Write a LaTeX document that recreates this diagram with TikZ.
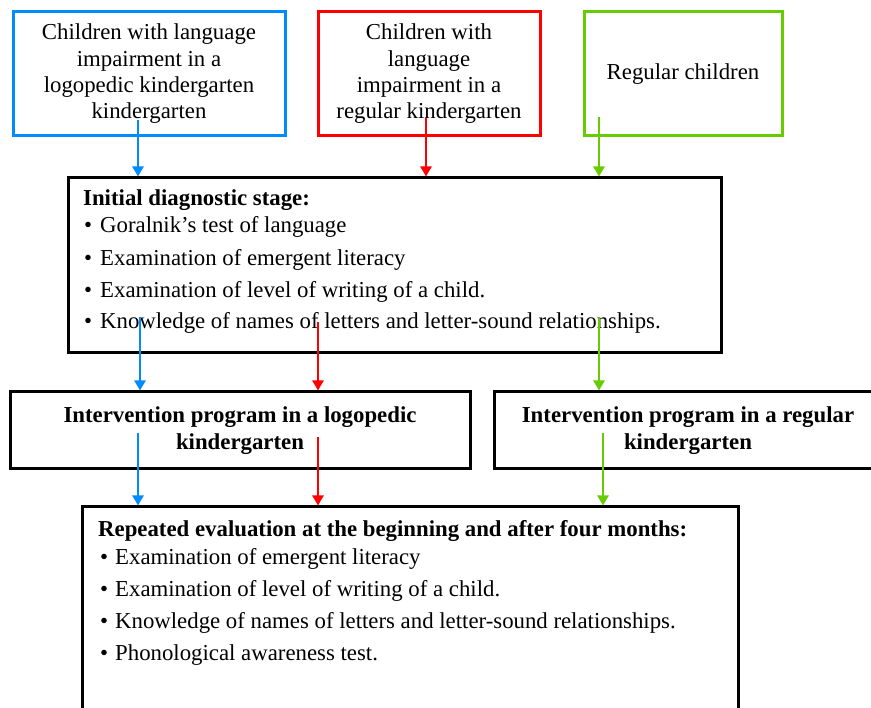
\documentclass[tikz,border=0pt]{standalone}
\usepackage{fontspec}
\setmainfont{Liberation Serif}
\usetikzlibrary{arrows.meta,calc}
\definecolor{cblue}{RGB}{0,140,255}
\definecolor{cred}{RGB}{255,0,0}
\definecolor{cgreen}{RGB}{102,204,0}
\begin{document}
\begin{tikzpicture}[x=1pt,y=-1pt,
  box/.style={draw, line width=3pt, inner sep=0pt, align=center,
    font=\fontsize{22.8}{26.3}\selectfont},
  boldbox/.style={box, font=\fontsize{22.8}{27}\selectfont\bfseries},
  line/.style={anchor=base west, inner sep=0pt, font=\fontsize{22.8}{27}\selectfont},
  flow/.style={line width=2.4pt, -{Triangle[width=11pt,length=10pt]}}]
\path[use as bounding box] (0,0) rectangle (871,708);
\clip (0,0) rectangle (871,708);
% top boxes
\node[box, draw=cblue, minimum width=272pt, minimum height=124pt] (kl) at (149,74)
  {Children with language\\impairment in a\\logopedic kindergarten\\kindergarten};
\node[box, draw=cred, minimum width=222pt, minimum height=124pt] (kr) at (429,74)
  {Children with\\language\\impairment in a\\regular kindergarten};
\node[box, draw=cgreen, minimum width=198pt, minimum height=124pt] (kg) at (683,74)
  {Regular children};
% diagnostic box
\node[box, minimum width=653pt, minimum height=175pt] (diag) at (394.5,265.5) {};
\node[line] (d0) at (83,206) {\bfseries Initial diagnostic stage:};
\node[line] (d1) at (84,233) {\makebox[16pt][l]{\textbullet}Goralnik's test of language};
\node[line] (d2) at (84,266) {\makebox[16pt][l]{\textbullet}Examination of emergent literacy};
\node[line] (d3) at (84,298) {\makebox[16pt][l]{\textbullet}Examination of level of writing of a child.};
\node[line] (d4) at (84,329) {\makebox[16pt][l]{\textbullet}Knowledge of names of letters and letter-sound relationships.};
% intervention boxes
\node[boldbox, minimum width=460pt, minimum height=77pt] (il) at (240,430.5)
  {Intervention program in a logopedic\\kindergarten};
\node[boldbox, minimum width=388pt, minimum height=77pt] (ir) at (688,430.5)
  {Intervention program in a regular\\kindergarten};
% repeated evaluation
\node[box, minimum width=656pt, minimum height=213pt] (rep) at (410,613.5) {};
\node[line] (r0) at (98,537) {\bfseries Repeated evaluation at the beginning and after four months:};
\node[line] (r1) at (100,565) {\makebox[15pt][l]{\textbullet}Examination of emergent literacy};
\node[line] (r2) at (100,597) {\makebox[15pt][l]{\textbullet}Examination of level of writing of a child.};
\node[line] (r3) at (100,628) {\makebox[15pt][l]{\textbullet}Knowledge of names of letters and letter-sound relationships.};
\node[line] (r4) at (100,660) {\makebox[15pt][l]{\textbullet}Phonological awareness test.};
% arrow starts
\coordinate (a1) at (138,120);
\coordinate (a2) at (426,118);
\coordinate (a3) at (599,117);
\coordinate (b1) at (140,317);
\coordinate (b2) at (318,322);
\coordinate (b3) at (599,318);
\coordinate (c1) at (138,433);
\coordinate (c2) at (318,437);
\coordinate (c3) at (603,433);
\draw[flow, cblue] (a1) -- (a1 |- diag.north);
\draw[flow, cred] (a2) -- (a2 |- diag.north);
\draw[flow, cgreen] (a3) -- (a3 |- diag.north);
\draw[flow, cblue] (b1) -- (b1 |- il.north);
\draw[flow, cred] (b2) -- (b2 |- il.north);
\draw[flow, cgreen] (b3) -- (b3 |- ir.north);
\draw[flow, cblue] (c1) -- (c1 |- rep.north);
\draw[flow, cred] (c2) -- (c2 |- rep.north);
\draw[flow, cgreen] (c3) -- (c3 |- rep.north);
\end{tikzpicture}
\end{document}
